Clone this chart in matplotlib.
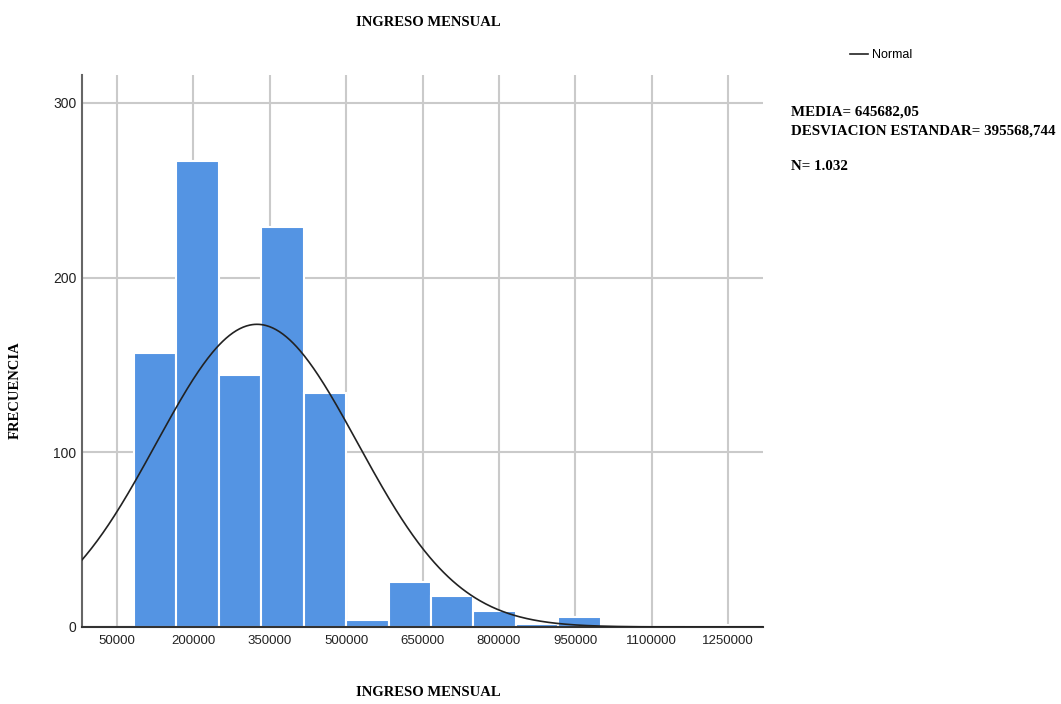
import numpy as np
import matplotlib
matplotlib.use("Agg")
import matplotlib.pyplot as plt
from matplotlib.lines import Line2D

bin_width = 250000 / 3
bin_left = [1, 2, 3, 4, 5, 6, 7, 8, 9, 10, 11, 12, 13, 14]  # multiplos del ancho
frecuencias = [157, 267, 144, 229, 134, 4, 26, 18, 9, 2, 6, 0, 0, 1]

# curva normal superpuesta (estimada desde la figura)
curva_media = 325000
curva_desv = 198000
curva_n = 1032

x_ticks = [50000, 200000, 350000, 500000, 650000, 800000, 950000, 1100000, 1250000]
y_ticks = [0, 100, 200, 300]

titulo = "INGRESO MENSUAL"
eje_x = "INGRESO MENSUAL"
eje_y = "FRECUENCIA"
estadisticos = ["MEDIA= 645682,05", "DESVIACION ESTANDAR= 395568,744"]
n_texto = "N= 1.032"

W, H = 1061, 704
fig = plt.figure(figsize=(W / 100, H / 100), dpi=100)
ax = fig.add_axes([82 / W, 1 - 627 / H, (763 - 82) / W, (627 - 75) / H])

izq = [b * bin_width for b in bin_left]
ax.bar(izq, frecuencias, width=bin_width, align="edge", color="#5494E3",
       edgecolor="white", linewidth=1.5, zorder=2)

xs = np.linspace(-20000, 1320000, 600)
ys = curva_n * bin_width / (curva_desv * np.sqrt(2 * np.pi)) * \
    np.exp(-0.5 * ((xs - curva_media) / curva_desv) ** 2)
ax.plot(xs, ys, color="#222222", lw=1.2, zorder=3)

ax.set_xlim(-18700, 1318700)
ax.set_ylim(0, 316)
ax.set_xticks(x_ticks)
ax.set_xticklabels([str(v) for v in x_ticks])
ax.set_yticks(y_ticks)
ax.grid(True, color="#cacaca", lw=1.5, zorder=0)
ax.set_axisbelow(True)
ax.tick_params(length=0, colors="#222222")
ax.tick_params(axis="x", pad=6, labelsize=9.5)
ax.tick_params(axis="y", pad=4, labelsize=10)
for s in ["top", "right"]:
    ax.spines[s].set_visible(False)
ax.spines["left"].set_color("#666666")
ax.spines["left"].set_linewidth(1.5)
ax.spines["bottom"].set_color("#333333")
ax.spines["bottom"].set_linewidth(1.5)
for lab in ax.get_xticklabels() + ax.get_yticklabels():
    lab.set_fontfamily("Liberation Sans")

serif = dict(family="Liberation Serif", fontweight="bold", fontsize=10.5)
fig.text(428 / W, 1 - 22 / H, titulo, ha="center", va="center", **serif)
fig.text(428 / W, 1 - 693 / H, eje_x, ha="center", va="center", **serif)
fig.text(15 / W, 1 - 390 / H, eje_y, ha="center", va="center", rotation=90, **serif)
stats = dict(serif, fontsize=10.8)
fig.text(791 / W, 1 - 112 / H, estadisticos[0], ha="left", va="center", **stats)
fig.text(791 / W, 1 - 131 / H, estadisticos[1], ha="left", va="center", **stats)
fig.text(791 / W, 1 - 167 / H, n_texto, ha="left", va="center", **stats)

linea = Line2D([], [], color="#222222", lw=1.2)
fig.legend(handles=[linea], labels=["Normal"], loc="center left",
           bbox_to_anchor=(850 / W, 1 - 55 / H), frameon=False,
           handlelength=1.45, handletextpad=0.3, borderpad=0, borderaxespad=0,
           prop={"family": "Liberation Sans", "size": 9})

fig.savefig("out.png", dpi=100)
